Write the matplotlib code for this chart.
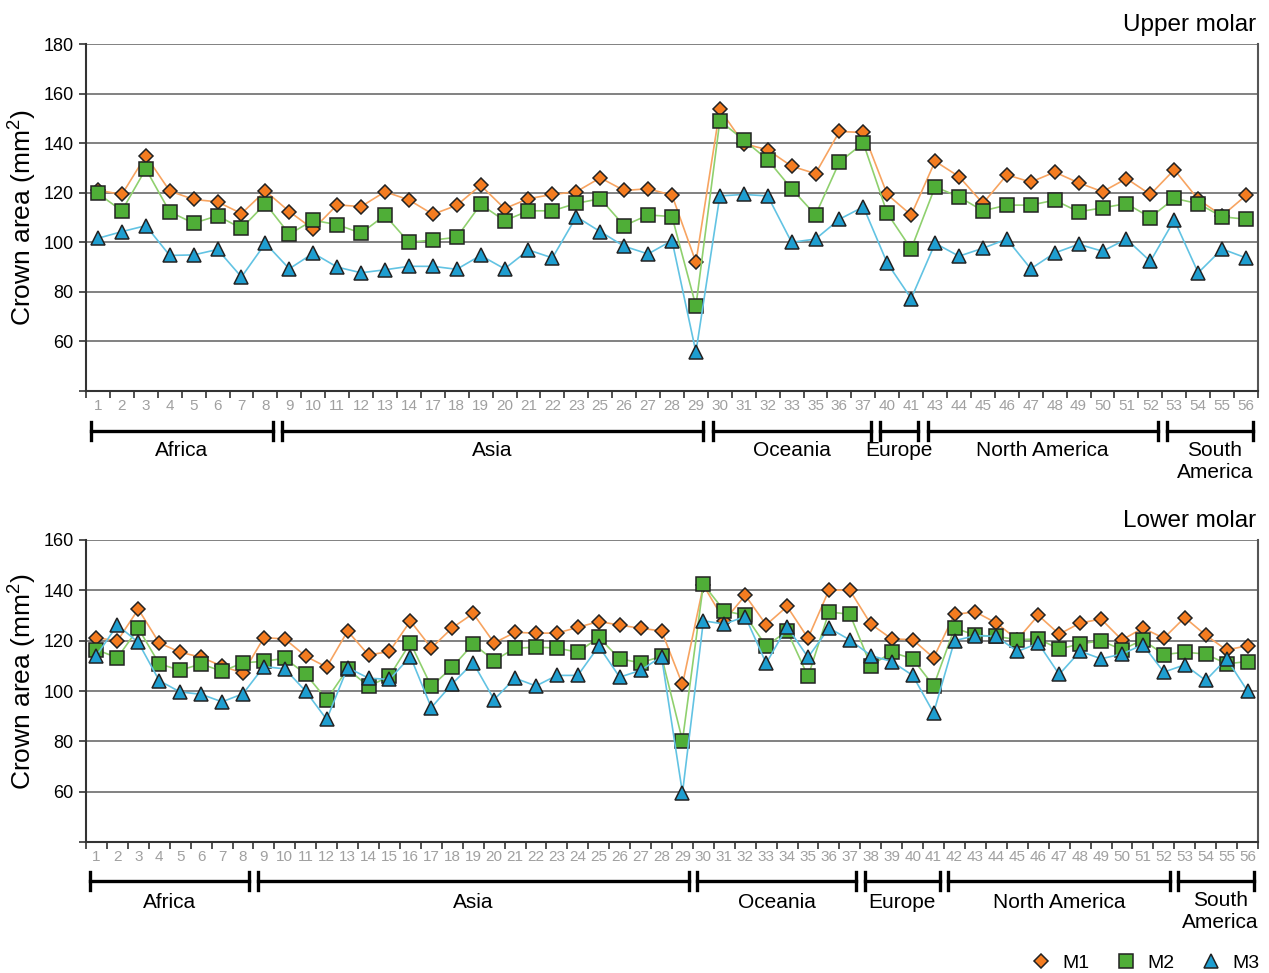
import numpy as np
import matplotlib
matplotlib.use("Agg")
import matplotlib.pyplot as plt
import matplotlib.transforms as mtransforms
from matplotlib.lines import Line2D

plt.rcParams['font.family'] = ['Liberation Sans', 'DejaVu Sans']
plt.rcParams['mathtext.fontset'] = 'custom'
plt.rcParams['mathtext.rm'] = 'Liberation Sans'

# ---------------- Data ----------------
upper_labels = [1, 2, 3, 4, 5, 6, 7, 8, 9, 10, 11, 12, 13, 14, 17, 18, 19, 20, 21, 22, 23,
                25, 26, 27, 28, 29, 30, 31, 32, 33, 35, 36, 37, 40, 41, 43, 44, 45, 46, 47,
                48, 49, 50, 51, 52, 53, 54, 55, 56]
upper_m1 = [121, 119.3, 134.9, 120.7, 117.3, 116.3, 111.6, 120.7, 112.4, 105.3, 115.1, 114.4,
            120.4, 117.1, 111.3, 114.9, 123, 113.6, 117.6, 119.3, 120.4, 126, 120.9, 121.6,
            119, 92, 153.6, 139.8, 137.3, 130.7, 127.7, 144.7, 144.3, 119.3, 111, 132.7,
            126.5, 115.7, 127.2, 124.3, 128.3, 124, 120.4, 125.7, 119.3, 129.3, 117.3, 110.7,
            118.9]
upper_m2 = [119.7, 112.7, 129.6, 112.3, 107.7, 110.7, 105.6, 115.6, 103.3, 108.9, 107.1, 103.7,
            110.9, 100, 100.9, 102, 115.3, 108.7, 112.7, 112.7, 115.7, 117.6, 106.7, 111,
            110.4, 74.3, 149, 141.3, 133.3, 121.6, 111, 132.4, 140, 111.7, 97.3, 122.4,
            118.3, 112.7, 115, 115, 117, 112.3, 113.9, 115.6, 110, 117.7, 115.6, 110.3,
            109.3]
upper_m3 = [101.6, 104.3, 106.7, 94.7, 94.9, 97.1, 86, 99.6, 89.3, 95.6, 90, 87.7,
            88.9, 90.3, 90.3, 89.1, 94.7, 89.3, 96.9, 93.7, 110.3, 104.3, 98.4, 95.3,
            100.7, 55.7, 118.7, 119.3, 118.7, 100, 101.3, 109.3, 114.3, 91.6, 77.3, 99.6,
            94.4, 97.6, 101.3, 89.3, 95.7, 99.2, 96.4, 101.3, 92.3, 109, 87.7, 97.3,
            93.7]
upper_groups = ["Africa", "Asia", "Oceania", "Europe", "North America", "South\nAmerica"]
upper_group_sizes = [8, 18, 7, 2, 10, 4]

lower_labels = list(range(1, 57))
lower_m1 = [121.2, 119.9, 132.5, 119.1, 115.4, 113.4, 109.9, 107.1, 121.2, 120.7, 113.8, 109.5,
            123.8, 114.3, 115.7, 127.8, 117.1, 125.1, 130.8, 119.1, 123.3, 123, 123, 125.3,
            127.6, 126.2, 124.9, 123.9, 102.6, 142, 128, 138, 126.3, 133.6, 121, 140.1,
            140, 126.6, 120.7, 120.4, 113.2, 130.5, 131.4, 127, 120.4, 130.1, 122.6, 127,
            128.6, 120.3, 125, 121, 129.2, 122.2, 116.3, 118]
lower_m2 = [116.4, 113.2, 124.9, 110.8, 108.2, 110.8, 107.8, 111.2, 111.8, 113, 106.7, 96.6,
            108.8, 101.8, 105.9, 119.1, 101.8, 109.5, 118.7, 112.1, 117, 117.4, 117.1, 115.4,
            121.3, 112.8, 111.2, 113.8, 80.3, 142.4, 131.8, 130.1, 117.8, 123.9, 105.8, 131.4,
            130.5, 110.1, 115.4, 112.8, 102, 125, 122.2, 121.7, 120.4, 120.7, 116.7, 118.7,
            120, 116.4, 120.3, 114.5, 115.4, 114.7, 110.8, 111.7]
lower_m3 = [114.1, 126.2, 119.3, 104.1, 99.6, 98.7, 95.7, 98.9, 109.7, 108.8, 99.9, 88.7,
            109.3, 105.1, 104.6, 113.7, 93.4, 102.9, 111.2, 96.6, 105.1, 102, 106.2, 106.2,
            117.8, 105.5, 108.2, 113.7, 59.5, 127.9, 126.6, 129.6, 111, 125.5, 113.4, 125,
            120.3, 114.1, 111.7, 106.2, 91.3, 120, 122, 121.7, 115.7, 119, 106.6, 115.8,
            112.8, 114.7, 118.4, 107.5, 110.4, 104.2, 112.8, 100]
lower_groups = ["Africa", "Asia", "Oceania", "Europe", "North America", "South\nAmerica"]
lower_group_sizes = [8, 21, 8, 4, 11, 4]

series_names = ["M1", "M2", "M3"]
marker_face = ["#f47c20", "#4fae37", "#1e9ed0"]
line_colors = ["#f7a461", "#8fd06e", "#62c3e3"]
markers = ["D", "s", "^"]
msizes = [7.5, 9.5, 10.5]

W, H = 1269, 973
fig = plt.figure(figsize=(W / 100, H / 100), dpi=100)


def px_axes(l, t, r, b):
    return fig.add_axes([l / W, 1 - b / H, (r - l) / W, (b - t) / H])


def draw_panel(ax, labels, data, ylim, yticks, title, title_y, groups, sizes,
               br_y, lab_y, lab2_y, ylab_y):
    n = len(labels)
    x = np.arange(n)
    for vals, mf, lc, mk, ms in zip(data, marker_face, line_colors, markers, msizes):
        ax.plot(x, vals, color=lc, lw=1.2, marker=mk, ms=ms, mfc=mf, mec="#222222",
                mew=1.1, zorder=3)
    ax.set_xlim(-0.5, n - 0.5)
    ax.set_ylim(*ylim)
    ax.set_yticks(yticks)
    ax.set_yticklabels([("" if v == ylim[0] else str(v)) for v in yticks], fontsize=13)
    for v in yticks[1:]:
        ax.axhline(v, color="#777777", lw=1.3, zorder=1)
    ax.set_xticks(x)
    ax.set_xticklabels([str(v) for v in labels], fontsize=11, color="#a0a0a0")
    ax.set_xticks(np.arange(-0.5, n), minor=True)
    ax.tick_params(axis="x", which="major", length=0, pad=6)
    ax.tick_params(axis="x", which="minor", length=5, width=1.2, color="#333333",
                   direction="out")
    ax.tick_params(axis="y", length=5, width=1.2, color="#333333", pad=4)
    for s in ["left", "bottom"]:
        ax.spines[s].set_color("#333333")
        ax.spines[s].set_linewidth(1.5)
    ax.spines["right"].set_color("#555555")
    ax.spines["right"].set_linewidth(1.5)
    ax.spines["top"].set_visible(False)
    ax.set_ylabel("Crown area (mm$^2$)", fontsize=19, va="center")
    ax.yaxis.set_label_coords(-0.0546, ylab_y)
    fig.text(1256 / W, 1 - title_y / H, title, ha="right", va="center", fontsize=17.5)

    trans = mtransforms.blended_transform_factory(ax.transData, fig.transFigure)
    start = 0
    inset = 0.2
    for g, sz in zip(groups, sizes):
        x0 = start - 0.5 + inset
        x1 = start + sz - 0.5 - inset
        yb = 1 - br_y / H
        ya, yz = 1 - (br_y - 9) / H, 1 - (br_y + 9) / H
        ax.add_line(Line2D([x0, x1], [yb, yb], transform=trans, color="black", lw=2.4,
                           clip_on=False))
        for xe in (x0, x1):
            ax.add_line(Line2D([xe, xe], [ya, yz], transform=trans, color="black", lw=2.4,
                               clip_on=False))
        xm = (x0 + x1) / 2
        if "\n" in g:
            ax.text(xm + 0.2, 1 - lab2_y / H, g, transform=trans, ha="center", va="center",
                    fontsize=15, linespacing=1.2)
        else:
            ax.text(xm, 1 - lab_y / H, g, transform=trans, ha="center", va="center",
                    fontsize=15)
        start += sz


ax1 = px_axes(86, 44, 1258, 391)
draw_panel(ax1, upper_labels, [upper_m1, upper_m2, upper_m3], (40, 180),
           [40, 60, 80, 100, 120, 140, 160, 180], "Upper molar", 25,
           upper_groups, upper_group_sizes, 431, 451, 461, 0.5)

ax2 = px_axes(86, 540, 1258, 842)
draw_panel(ax2, lower_labels, [lower_m1, lower_m2, lower_m3], (40, 160),
           [40, 60, 80, 100, 120, 140, 160], "Lower molar", 521,
           lower_groups, lower_group_sizes, 881, 902, 912, 0.53)

handles = [Line2D([], [], ls="none", marker=mk, ms=ms, mfc=mf, mec="#222222", mew=1.1)
           for mk, ms, mf in zip(markers, msizes, marker_face)]
fig.legend(handles, series_names, loc="center right", bbox_to_anchor=(1260 / W, 1 - 963 / H),
           ncol=3, frameon=False, fontsize=14, handlelength=1.0, handletextpad=0.6,
           columnspacing=1.4, borderpad=0, borderaxespad=0)

fig.savefig("out.png", dpi=100)
